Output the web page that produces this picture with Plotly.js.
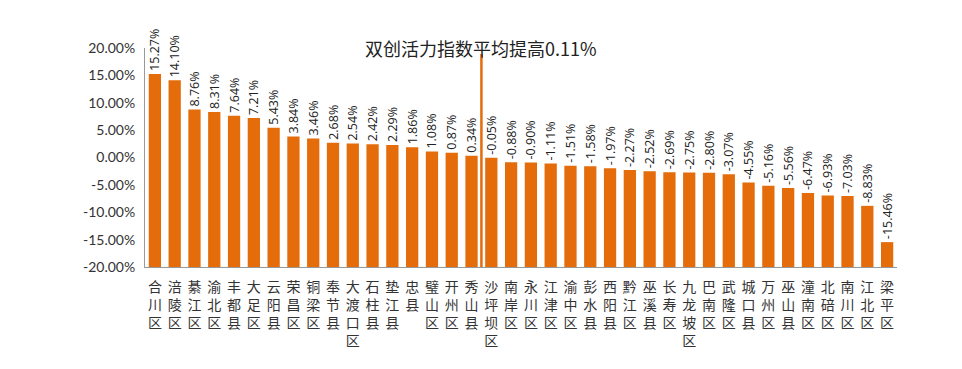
<!DOCTYPE html>
<html>
<head>
<meta charset="utf-8">
<script src="https://cdn.plot.ly/plotly-3.0.1.min.js"></script>
<style>
  html, body { margin: 0; padding: 0; background: #fff; }
  #chart { width: 962px; height: 369px; }
</style>
</head>
<body>
<div id="chart"></div>
<script>
// Districts / counties (x categories)
const districts = ["合川区","涪陵区","綦江区","渝北区","丰都县","大足区","云阳县","荣昌区","铜梁区","奉节县",
  "大渡口区","石柱县","垫江县","忠县","璧山区","开州区","秀山县","沙坪坝区","南岸区","永川区",
  "江津区","渝中区","彭水县","西阳县","黔江区","巫溪县","长寿区","九龙坡区","巴南区","武隆区",
  "城口县","万州区","巫山县","潼南区","北碚区","南川区","江北区","梁平区"];
// Change of the index (%)
const changes = [15.27,14.10,8.76,8.31,7.64,7.21,5.43,3.84,3.46,2.68,
  2.54,2.42,2.29,1.86,1.08,0.87,0.34,-0.05,-0.88,-0.90,
  -1.11,-1.51,-1.58,-1.97,-2.27,-2.52,-2.69,-2.75,-2.80,-3.07,
  -4.55,-5.16,-5.56,-6.47,-6.93,-7.03,-8.83,-15.46];
const yTicks = [-20,-15,-10,-5,0,5,10,15,20];
const averageText = "双创活力指数平均提高0.11%";

const axisMin = yTicks[0];
const axisMax = yTicks[yTicks.length - 1];
const tickLabels = districts.map(d => d.split("").join("<br>"));
const positiveCount = changes.filter(v => v > 0).length;
const splitX = positiveCount - 0.5;

const trace = {
  type: "bar",
  x: districts,
  y: changes.map(v => v - axisMin),
  base: axisMin,
  text: changes.map(v => v.toFixed(2) + "%"),
  textposition: "outside",
  textangle: -90,
  constraintext: "none",
  cliponaxis: false,
  textfont: { family: "Open Sans, Liberation Sans, sans-serif", size: 12.5, color: "#222" },
  marker: { color: "#E46C0A" },
  hoverinfo: "x+text"
};

const layout = {
  width: 962,
  height: 369,
  margin: { l: 145, r: 65, t: 48, b: 102 },
  paper_bgcolor: "#fff",
  plot_bgcolor: "#fff",
  showlegend: false,
  bargap: 0.38,
  xaxis: {
    type: "category",
    tickvals: districts,
    ticktext: tickLabels,
    tickangle: 0,
    ticklabelstandoff: 7,
    showline: true,
    linecolor: "#999",
    linewidth: 1,
    ticks: "",
    showgrid: false,
    zeroline: false,
    tickfont: { family: "Noto Sans CJK SC, sans-serif", size: 14, color: "#333" }
  },
  yaxis: {
    range: [axisMin, axisMax],
    tickvals: yTicks,
    ticktext: yTicks.map(v => v.toFixed(2) + "%"),
    ticklabelstandoff: 6,
    showline: true,
    linecolor: "#999",
    linewidth: 1,
    ticks: "",
    showgrid: false,
    zeroline: false,
    tickfont: { family: "Lato, Open Sans, sans-serif", size: 14, color: "#333" }
  },
  shapes: [{
    type: "line",
    xref: "x", yref: "y",
    x0: splitX, x1: splitX,
    y0: axisMin, y1: 18.9,
    line: { color: "#E46C0A", width: 2.5 }
  }],
  annotations: [{
    xref: "x", yref: "paper",
    x: splitX, y: 1.0,
    xanchor: "center", yanchor: "middle",
    text: averageText,
    showarrow: false,
    font: { family: "Noto Sans CJK SC, sans-serif", size: 18, color: "#222" }
  }]
};

Plotly.newPlot("chart", [trace], layout, { displayModeBar: false, responsive: false });
</script>
</body>
</html>
